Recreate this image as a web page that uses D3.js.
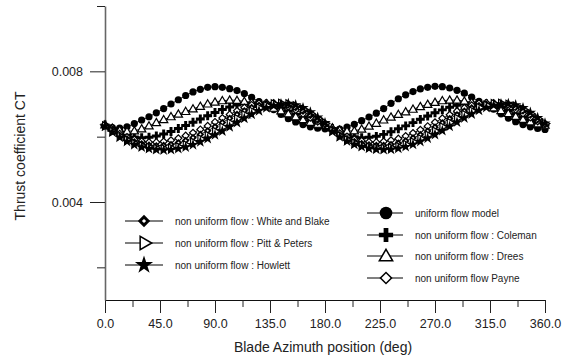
<!DOCTYPE html>
<html><head><meta charset="utf-8">
<script src="https://cdn.jsdelivr.net/npm/d3@7"></script>
<style>body{margin:0;background:#fff}svg{display:block;font-family:"Liberation Sans",Arial,sans-serif}</style>
</head><body><svg id="c" width="563" height="360"></svg>
<script>
const azimuth = d3.range(0, 361, 6);
const uniformFlow = [.00634,.00628,.00626,.00630,.00640,.00651,.00661,.00673,.00686,.00700,.00713,.00726,.00737,.00745,.00751,.00753,.00751,.00747,.00741,.00732,.00720,.00707,.00695,.00683,.00668,.00655,.00645,.00637,.00630,.00626,.00624,
 .00622,.00623,.00629,.00638,.00649,.00660,.00672,.00686,.00702,.00716,.00728,.00738,.00746,.00751,.00754,.00753,.00749,.00742,.00733,.00721,.00708,.00696,.00684,.00670,.00657,.00646,.00637,.00630,.00625,.00622];
const drees = [.00636,.00626,.00619,.00616,.00618,.00624,.00633,.00643,.00652,.00661,.00669,.00677,.00685,.00693,.00700,.00706,.00710,.00712,.00711,.00708,.00704,.00699,.00694,.00687,.00679,.00670,.00661,.00652,.00644,.00638,.00634,
 .00627,.00620,.00617,.00618,.00623,.00632,.00641,.00651,.00660,.00668,.00676,.00684,.00692,.00699,.00705,.00710,.00712,.00712,.00709,.00705,.00700,.00695,.00688,.00680,.00671,.00662,.00653,.00645,.00639,.00635];
const coleman = [.00636,.00624,.00613,.00605,.00599,.00597,.00598,.00602,.00608,.00616,.00625,.00634,.00644,.00654,.00664,.00674,.00683,.00691,.00697,.00701,.00703,.00703,.00700,.00695,.00688,.00679,.00669,.00659,.00649,.00641,.00635,
 .00625,.00614,.00606,.00600,.00597,.00598,.00601,.00607,.00615,.00624,.00633,.00643,.00653,.00663,.00673,.00682,.00690,.00696,.00700,.00703,.00703,.00701,.00696,.00689,.00680,.00670,.00660,.00650,.00642,.00636];
const payne = [.00635,.00621,.00609,.00599,.00591,.00586,.00583,.00583,.00585,.00589,.00595,.00603,.00612,.00622,.00633,.00645,.00657,.00668,.00679,.00689,.00697,.00702,.00704,.00703,.00699,.00692,.00682,.00670,.00658,.00646,.00637,
 .00622,.00610,.00600,.00592,.00587,.00584,.00583,.00585,.00589,.00594,.00602,.00611,.00621,.00632,.00644,.00656,.00667,.00678,.00688,.00696,.00702,.00704,.00703,.00700,.00693,.00683,.00671,.00659,.00647,.00638];
const whiteBlake = [.00634,.00618,.00604,.00593,.00584,.00578,.00574,.00572,.00573,.00576,.00581,.00588,.00597,.00607,.00618,.00630,.00643,.00656,.00668,.00679,.00689,.00696,.00701,.00703,.00702,.00697,.00689,.00678,.00665,.00651,.00639,
 .00620,.00605,.00594,.00585,.00579,.00575,.00573,.00573,.00576,.00580,.00587,.00596,.00606,.00617,.00629,.00642,.00655,.00667,.00678,.00688,.00695,.00700,.00703,.00702,.00698,.00690,.00679,.00666,.00652,.00640];
const pittPeters = [.00633,.00616,.00601,.00589,.00579,.00572,.00567,.00564,.00563,.00565,.00569,.00575,.00583,.00593,.00604,.00616,.00629,.00642,.00655,.00667,.00678,.00688,.00695,.00700,.00702,.00700,.00694,.00684,.00671,.00656,.00641,
 .00618,.00602,.00590,.00580,.00573,.00568,.00565,.00564,.00566,.00570,.00576,.00584,.00594,.00605,.00617,.00630,.00643,.00656,.00668,.00679,.00689,.00696,.00701,.00702,.00699,.00693,.00683,.00670,.00655,.00640];
const howlett = [.00632,.00614,.00598,.00585,.00575,.00568,.00563,.00560,.00559,.00560,.00563,.00568,.00575,.00584,.00594,.00605,.00617,.00630,.00643,.00656,.00668,.00679,.00688,.00695,.00700,.00701,.00697,.00688,.00675,.00659,.00642,
 .00615,.00599,.00586,.00576,.00569,.00564,.00561,.00560,.00561,.00564,.00569,.00576,.00585,.00595,.00606,.00618,.00631,.00644,.00657,.00669,.00680,.00689,.00696,.00700,.00701,.00697,.00688,.00674,.00658,.00641];

const xTicks = [0,45,90,135,180,225,270,315,360];
const xMinor = [22.5,67.5,112.5,157.5,202.5,247.5,292.5,337.5];
const yTicks = [0.004,0.008];
const yMinor = [0.002,0.006,0.010];
const xTitle = "Blade Azimuth position (deg)";
const yTitle = "Thrust coefficient CT";

const series = [
 {name:"uniform flow model", values:uniformFlow, sym:"circle"},
 {name:"non uniform flow : Coleman", values:coleman, sym:"cross"},
 {name:"non uniform flow : Drees", values:drees, sym:"triangle"},
 {name:"non uniform flow Payne", values:payne, sym:"diamond"},
 {name:"non uniform flow : White and Blake", values:whiteBlake, sym:"dotdiamond"},
 {name:"non uniform flow : Pitt & Peters", values:pittPeters, sym:"rtriangle"},
 {name:"non uniform flow : Howlett", values:howlett, sym:"star"}
];

const svg = d3.select("#c");
const x = d3.scaleLinear().domain([0,360]).range([105,545]);
const y = d3.scaleLinear().domain([0.001,0.010]).range([300,6]);

// axes
const xAxis = svg.append("g").attr("transform","translate(0,300)")
  .call(d3.axisBottom(x).tickValues(xTicks).tickFormat(d3.format(".1f")).tickSize(13).tickSizeOuter(0));
xAxis.select(".domain").attr("stroke","#111");
xAxis.selectAll(".tick line").attr("stroke","#222");
xAxis.selectAll("text").attr("font-size",12.5).attr("fill","#222").attr("dy","0").attr("y",28);
const xMin = svg.append("g").attr("transform","translate(0,300)")
  .call(d3.axisBottom(x).tickValues(xMinor).tickSize(7).tickFormat(""));
xMin.select(".domain").remove();
xMin.selectAll(".tick line").attr("stroke","#222");

const yAxis = svg.append("g").attr("transform","translate(105,0)")
  .call(d3.axisLeft(y).tickValues(yTicks).tickFormat(d3.format(".3f")).tickSize(15).tickSizeOuter(0));
yAxis.select(".domain").attr("stroke","#666").attr("stroke-width",1.6);
yAxis.selectAll(".tick line").attr("stroke","#222");
yAxis.selectAll("text").attr("font-size",12.5).attr("fill","#222").attr("x",-22);
const yMin = svg.append("g").attr("transform","translate(105,0)")
  .call(d3.axisLeft(y).tickValues(yMinor).tickSize(8).tickFormat(""));
yMin.select(".domain").remove();
yMin.selectAll(".tick line").attr("stroke","#222");

svg.append("text").attr("x",323).attr("y",352).attr("text-anchor","middle")
  .attr("font-size",14).attr("fill","#222").text(xTitle);
svg.append("text").attr("transform","translate(25,156) rotate(-90)").attr("text-anchor","middle")
  .attr("font-size",14).attr("fill","#222").text(yTitle);

// faint title text hidden behind curves
svg.append("text").attr("x",252).attr("y",119).attr("text-anchor","end")
  .attr("font-size",9).attr("fill","#888").text("Title");

function drawMarker(g, sym, s){
  if(sym==="circle"){
    g.append("circle").attr("r",3.6*s).attr("fill","#000");
  } else if(sym==="cross"){
    g.append("path").attr("d",d3.symbol(d3.symbolCross, 44*s*s)()).attr("fill","#000");
  } else if(sym==="triangle"){
    g.append("path").attr("d",d3.symbol(d3.symbolTriangle, 30*s*s)()).attr("fill","#fff").attr("stroke","#000").attr("stroke-width",1.2*Math.sqrt(s)).attr("transform","translate(0,"+(0.6*s)+")");
  } else if(sym==="diamond"){
    g.append("path").attr("d",d3.symbol(d3.symbolSquare, 24*s*s)()).attr("transform","rotate(45)").attr("fill","#fff").attr("stroke","#000").attr("stroke-width",1.2*Math.sqrt(s));
  } else if(sym==="dotdiamond"){
    g.append("path").attr("d",d3.symbol(d3.symbolSquare, 30*s*s)()).attr("transform","rotate(45)").attr("fill","#000");
    g.append("path").attr("d",d3.symbol(d3.symbolSquare, 3.5*s*s)()).attr("transform","rotate(45)").attr("fill","#fff");
  } else if(sym==="rtriangle"){
    g.append("path").attr("d",d3.symbol(d3.symbolTriangle, 30*s*s)()).attr("transform","rotate(90)").attr("fill","#fff").attr("stroke","#000").attr("stroke-width",1.2*Math.sqrt(s));
  } else if(sym==="star"){
    g.append("path").attr("d",d3.symbol(d3.symbolStar, 40*s*s)()).attr("fill","#000");
  }
}

const line = d3.line().x((d,i)=>x(azimuth[i])).y(d=>y(d));
const plot = svg.append("g");
series.forEach(sr=>{
  plot.append("path").datum(sr.values).attr("d",line).attr("fill","none").attr("stroke","#000").attr("stroke-width",0.9);
});
series.forEach(sr=>{
  sr.values.forEach((v,i)=>{
    const g = plot.append("g").attr("transform",`translate(${x(azimuth[i])},${y(v)})`);
    drawMarker(g, sr.sym, 1);
  });
});

// legends
const legRight = [{s:series[0],y:213},{s:series[1],y:235},{s:series[2],y:256},{s:series[3],y:278}];
const legLeft = [{s:series[4],y:221},{s:series[5],y:243},{s:series[6],y:265}];
function legend(items, x0, x1, xm, xt){
  items.forEach(it=>{
    svg.append("line").attr("x1",x0).attr("x2",x1).attr("y1",it.y).attr("y2",it.y).attr("stroke","#000").attr("stroke-width",1);
    const g = svg.append("g").attr("transform",`translate(${xm},${it.y})`);
    drawMarker(g, it.s.sym, it.s.sym==="circle"?1.75:1.6);
    svg.append("text").attr("x",xt).attr("y",it.y).attr("dy","0.35em").attr("font-size",10).attr("fill","#222").text(it.s.name);
  });
}
legend(legRight, 367, 403, 386, 415);
legend(legLeft, 125, 163, 144, 175);
</script></body></html>
